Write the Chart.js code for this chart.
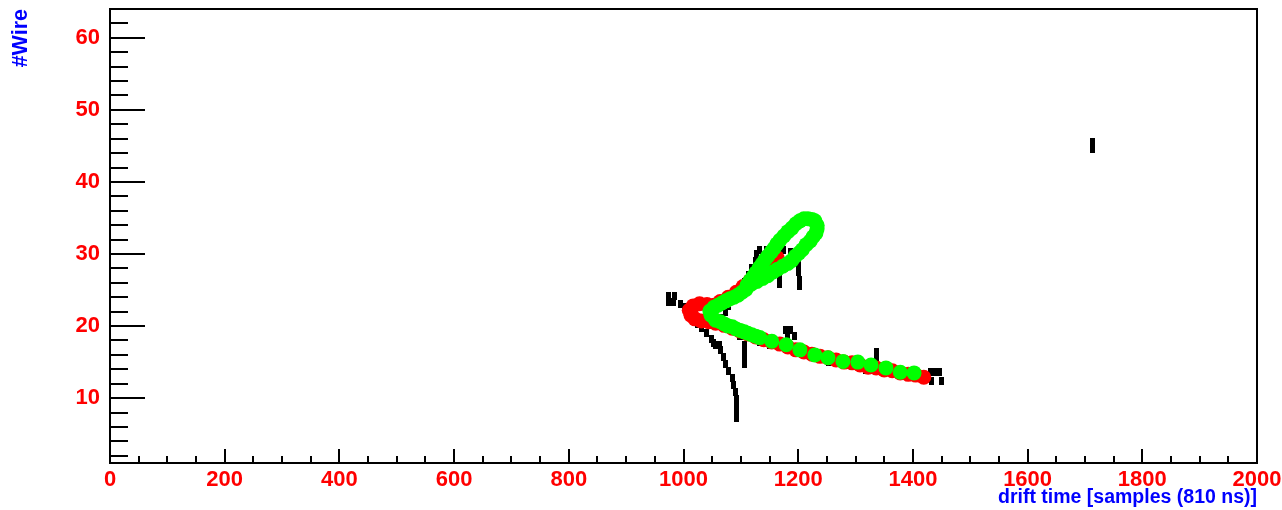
<!DOCTYPE html>
<html>
<head>
<meta charset="utf-8">
<title>Wire vs drift time</title>
<script src="https://cdn.jsdelivr.net/npm/chart.js@4.4.1/dist/chart.umd.min.js"></script>
<style>
  html, body { margin: 0; padding: 0; background: #fff; }
  #wrap { width: 1282px; height: 510px; }
</style>
</head>
<body>
<div id="wrap"><canvas id="display" width="1282" height="510"></canvas></div>
<script>
// Axis labels
const xTicks = [0, 200, 400, 600, 800, 1000, 1200, 1400, 1600, 1800, 2000];
const yTicks = [10, 20, 30, 40, 50, 60];

// Raw hits (drift time in samples, wire number)
const hitTime = [
    973, 985, 973, 983, 994, 1001,
    1017, 1024, 1031, 1040, 1048, 1053, 1056, 1062, 1064, 1069, 1074, 1079, 1085, 1088, 1090, 1092, 1092, 1092, 1092,
    1097, 1106, 1107, 1107, 1107, 1107,
    1067, 1074, 1079, 1086, 1093, 1100, 1107, 1114, 1119, 1125, 1128, 1133,
    1144, 1154, 1165, 1175, 1186, 1191, 1200, 1201, 1203, 1203, 1168, 1168,
    1177, 1187, 1182, 1193,
    1133, 1150, 1252, 1290, 1318, 1329, 1337, 1337, 1360, 1395,
    1430, 1440, 1447, 1432, 1449,
    1714, 1714
];
const hitWire = [
    24.2, 24.2, 23.3, 23.3, 23.1, 22.6,
    20.8, 20.3, 19.7, 19.0, 18.2, 17.6, 17.4, 17.4, 16.7, 15.7, 14.7, 13.8, 12.8, 11.8, 10.8, 9.9, 8.9, 7.9, 7.2,
    18.6, 18.6, 17.4, 16.4, 15.4, 14.7,
    21.1, 22.0, 22.8, 23.6, 24.4, 25.3, 26.1, 27.1, 28.1, 29.0, 30.0, 30.6,
    30.6, 30.6, 30.6, 30.6, 30.3, 29.5, 28.5, 27.5, 26.4, 25.6, 26.8, 25.8,
    19.4, 19.4, 18.5, 18.6,
    17.8, 17.4, 15.0, 14.8, 13.9, 13.9, 16.4, 15.6, 13.8, 13.3,
    13.6, 13.6, 13.6, 12.4, 12.4,
    45.6, 44.6
];

// Red track
const redTime = [
    1419, 1405, 1392, 1378, 1364, 1350, 1336, 1322, 1308, 1294, 1280, 1266, 1252, 1238, 1224, 1210,
    1196, 1182, 1168, 1154, 1140, 1126, 1112, 1099, 1085, 1071, 1056, 1044, 1031, 1020,
    1013, 1010, 1017, 1028, 1041, 1053, 1064, 1078, 1092, 1104, 1116, 1128, 1140, 1153, 1163
];
const redWire = [
    12.9, 13.2, 13.3, 13.5, 13.8, 13.9, 14.2, 14.3, 14.6, 14.9, 15.0, 15.3, 15.6, 15.8, 16.1, 16.4,
    16.7, 17.1, 17.5, 17.8, 18.1, 18.5, 18.9, 19.3, 19.7, 20.1, 20.4, 20.6, 20.7, 21.0,
    21.5, 22.2, 22.8, 23.1, 23.0, 22.9, 23.4, 24.0, 24.7, 25.5, 26.3, 27.3, 28.3, 29.0, 29.5
];

// Green track: lower branch, tip, upper branch, then round the loop
const greenTime = [
    1402, 1378, 1353, 1327, 1304, 1278, 1252, 1229, 1203, 1179, 1154,
    1133, 1126, 1119, 1112, 1106, 1099, 1092, 1085, 1078, 1071, 1064, 1056, 1048,
    1046,
    1053, 1060, 1067, 1074, 1081, 1088, 1095, 1102, 1109,
    1111, 1116, 1121, 1126, 1132, 1137, 1142, 1147, 1153, 1158, 1163, 1168, 1175, 1182, 1189, 1196,
    1203, 1210, 1217, 1224, 1229, 1233, 1233, 1231, 1226, 1221, 1214, 1207, 1201, 1195, 1189, 1182,
    1173, 1164, 1156, 1147, 1138, 1128, 1118, 1111
];
const greenWire = [
    13.5, 13.6, 14.2, 14.6, 15.0, 15.1, 15.6, 16.0, 16.7, 17.4, 17.9,
    18.4, 18.6, 18.8, 19.0, 19.2, 19.4, 19.6, 19.9, 20.0, 20.3, 20.6, 20.8, 21.5,
    22.1,
    22.6, 22.9, 23.2, 23.5, 23.8, 24.0, 24.3, 24.7, 25.1,
    25.7, 26.3, 26.8, 27.4, 28.1, 28.6, 29.2, 29.7, 30.3, 30.8, 31.4, 31.9, 32.5, 33.1, 33.6, 34.2,
    34.6, 34.9, 34.9, 34.8, 34.6, 34.0, 33.5, 32.9, 32.4, 31.8, 31.3, 30.6, 30.1, 29.7, 29.1, 28.7,
    28.3, 27.9, 27.5, 27.0, 26.6, 26.2, 25.8, 25.6
];

const toPoints = (xs, ys) => xs.map((v, i) => ({ x: v, y: ys[i] }));

// Small black box used for every raw hit
const cell = document.createElement('canvas');
cell.width = 5;
cell.height = 8;
const cctx = cell.getContext('2d');
cctx.fillStyle = '#000';
cctx.fillRect(0, 0, 5, 8);

const fontFamily = "'Liberation Sans', Arial, sans-serif";
const labelFont = { family: fontFamily, size: 22, weight: 'bold' };

// ROOT style frame: ticks drawn inwards, long ones on the wire axis
const rootFrame = {
    id: 'rootFrame',
    afterDatasetsDraw(chart) {
        const { ctx, chartArea: a, scales: { x, y } } = chart;
        ctx.save();
        ctx.strokeStyle = '#000';
        ctx.lineWidth = 2;
        for (let v = 0; v <= 2000; v += 50) {
            const px = Math.round(x.getPixelForValue(v));
            const len = v % 200 === 0 ? 14 : 7;
            ctx.beginPath();
            ctx.moveTo(px, a.bottom);
            ctx.lineTo(px, a.bottom - len);
            ctx.stroke();
        }
        for (let v = 2; v < 64; v += 2) {
            const py = Math.round(y.getPixelForValue(v));
            const len = v % 10 === 0 ? 35 : 18;
            ctx.beginPath();
            ctx.moveTo(a.left, py);
            ctx.lineTo(a.left + len, py);
            ctx.stroke();
        }
        ctx.strokeRect(a.left, a.top, a.right - a.left, a.bottom - a.top);
        ctx.restore();
    }
};

new Chart(document.getElementById('display'), {
    type: 'scatter',
    data: {
        datasets: [
            {
                label: 'green',
                data: toPoints(greenTime, greenWire),
                pointRadius: 7.5,
                pointBorderWidth: 0,
                backgroundColor: '#00ff00',
                order: 1
            },
            {
                label: 'red',
                data: toPoints(redTime, redWire),
                pointRadius: 7.5,
                pointBorderWidth: 0,
                backgroundColor: '#ff0000',
                order: 2
            },
            {
                label: 'hits',
                data: toPoints(hitTime, hitWire),
                pointStyle: cell,
                order: 3
            }
        ]
    },
    options: {
        responsive: false,
        animation: false,
        events: [],
        layout: { padding: { top: 9, right: 25, left: 0, bottom: 0 } },
        plugins: { legend: { display: false }, tooltip: { enabled: false } },
        scales: {
            x: {
                type: 'linear',
                min: 0,
                max: 2000,
                grid: { display: false, drawTicks: false },
                border: { display: false },
                afterBuildTicks: s => { s.ticks = xTicks.map(v => ({ value: v })); },
                afterFit: s => { s.height = 47; s.paddingLeft = 0; s.paddingRight = 0; },
                ticks: {
                    color: '#ff0000', font: labelFont, padding: 4, maxRotation: 0, autoSkip: false,
                    callback: v => String(v)
                },
                title: {
                    display: true,
                    text: 'drift time [samples (810 ns)]',
                    align: 'end',
                    color: '#0000ff',
                    font: { family: fontFamily, size: 19.5, weight: 'bold' },
                    padding: { top: 0, bottom: 1 }
                }
            },
            y: {
                type: 'linear',
                min: 1,
                max: 64,
                grid: { display: false, drawTicks: false },
                border: { display: false },
                afterBuildTicks: s => { s.ticks = yTicks.map(v => ({ value: v })); },
                afterFit: s => { s.width = 110; s.paddingTop = 0; s.paddingBottom = 0; },
                ticks: { color: '#ff0000', font: labelFont, padding: 10, autoSkip: false, callback: v => String(v) },
                title: {
                    display: true,
                    text: '#Wire',
                    align: 'end',
                    color: '#0000ff',
                    font: { family: fontFamily, size: 21.5, weight: 'bold' },
                    padding: { top: 8, bottom: 0 }
                }
            }
        }
    },
    plugins: [rootFrame]
});
</script>
</body>
</html>
